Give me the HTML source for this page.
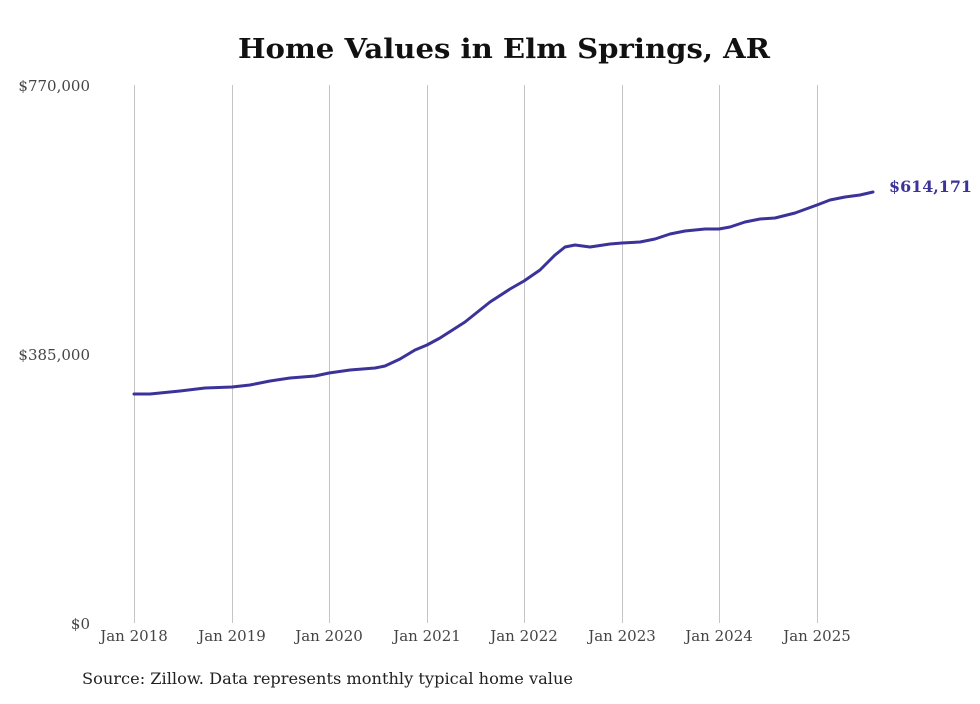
<!DOCTYPE html>
<html><head><style>
body{margin:0;background:#fff;}
svg text{font-family:"DejaVu Serif","Liberation Serif",serif;}
</style></head><body>
<svg width="980" height="699" viewBox="0 0 980 699" xmlns="http://www.w3.org/2000/svg">
<rect width="980" height="699" fill="#fff"/>
<text x="504" y="58" text-anchor="middle" font-size="27" font-weight="bold" fill="#111" textLength="532" lengthAdjust="spacingAndGlyphs">Home Values in Elm Springs, AR</text>
<g stroke="#c4c4c4" stroke-width="1">
<line x1="134.5" y1="85" x2="134.5" y2="623"/>
<line x1="232.5" y1="85" x2="232.5" y2="623"/>
<line x1="329.5" y1="85" x2="329.5" y2="623"/>
<line x1="427.5" y1="85" x2="427.5" y2="623"/>
<line x1="524.5" y1="85" x2="524.5" y2="623"/>
<line x1="622.5" y1="85" x2="622.5" y2="623"/>
<line x1="719.5" y1="85" x2="719.5" y2="623"/>
<line x1="817.5" y1="85" x2="817.5" y2="623"/>
</g>
<g font-size="15" fill="#444" text-anchor="end">
<text x="90" y="91">$770,000</text>
<text x="90" y="360">$385,000</text>
<text x="90" y="629">$0</text>
</g>
<g font-size="15" fill="#444" text-anchor="middle">
<text x="134" y="641">Jan 2018</text>
<text x="232" y="641">Jan 2019</text>
<text x="329" y="641">Jan 2020</text>
<text x="427" y="641">Jan 2021</text>
<text x="524" y="641">Jan 2022</text>
<text x="622" y="641">Jan 2023</text>
<text x="719" y="641">Jan 2024</text>
<text x="817" y="641">Jan 2025</text>
</g>
<polyline fill="none" stroke="#3b3399" stroke-width="3" stroke-linejoin="round" stroke-linecap="round"
points="134,394 150,394 180,391 205,388 232,387 250,385 270,381 290,378 315,376 329,373 350,370 375,368 385,366 400,359 415,350 427,345 440,338 465,322 490,302 510,289 524,281 540,270 555,255 565,247 575,245 590,247 610,244 622,243 640,242 655,239 670,234 685,231 705,229 719,229 730,227 745,222 760,219 775,218 795,213 817,205 830,200 845,197 860,195 873,192"/>
<text x="889" y="192" font-size="16" font-weight="bold" fill="#3b3399" textLength="83" lengthAdjust="spacingAndGlyphs">$614,171</text>
<text x="82" y="684" font-size="16" fill="#222" textLength="491" lengthAdjust="spacingAndGlyphs">Source: Zillow. Data represents monthly typical home value</text>
</svg>
</body></html>
